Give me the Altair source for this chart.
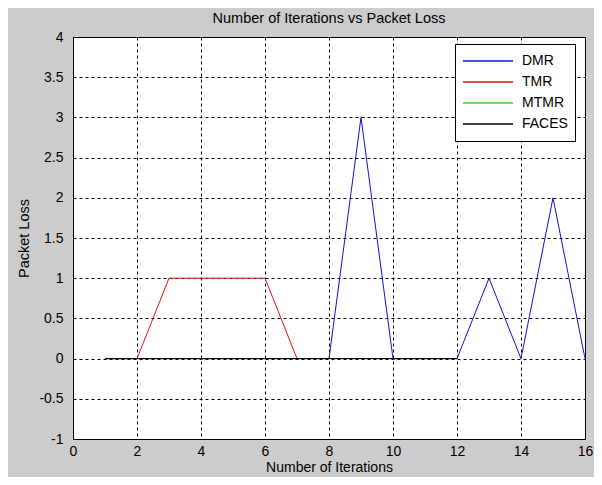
import altair as alt
import pandas as pd

iterations = list(range(1, 17))
dmr = [0, 0, 0, 0, 0, 0, 0, 0, 3, 0, 0, 0, 1, 0, 2, 0]
tmr_x = [1, 2, 3, 4, 5, 6, 7]
tmr = [0, 0, 1, 1, 1, 1, 0]
mtmr_x = list(range(1, 13))
mtmr = [0] * 12
faces_x = list(range(1, 13))
faces = [0] * 12

series_names = ["DMR", "TMR", "MTMR", "FACES"]
series_colors = ["#1010d8", "#e01010", "#20e020", "#000000"]

frames = [
    pd.DataFrame({"x": iterations, "y": dmr, "s": "DMR"}),
    pd.DataFrame({"x": tmr_x, "y": tmr, "s": "TMR"}),
    pd.DataFrame({"x": mtmr_x, "y": mtmr, "s": "MTMR"}),
    pd.DataFrame({"x": faces_x, "y": faces, "s": "FACES"}),
]

FONT = "Liberation Sans"

xenc = alt.X("x:Q", scale=alt.Scale(domain=[0, 16], nice=False, zero=False),
             axis=alt.Axis(values=list(range(0, 17, 2)), title="Number of Iterations",
                           grid=True, gridDash=[3, 3], gridColor="#000000", gridOpacity=1,
                           ticks=False, labelPadding=5, titlePadding=2,
                           labelFontSize=14, titleFontSize=14, labelFont=FONT, titleFont=FONT,
                           labelColor="#000", titleColor="#000", titleFontWeight="normal",
                           domainColor="#000", labelFlush=False))
yenc = alt.Y("y:Q", scale=alt.Scale(domain=[-1, 4], nice=False, zero=False),
             axis=alt.Axis(values=[-1, -0.5, 0, 0.5, 1, 1.5, 2, 2.5, 3, 3.5, 4],
                           title="Packet Loss", labelExpr="datum.value + ''",
                           grid=True, gridDash=[3, 3], gridColor="#000000", gridOpacity=1,
                           ticks=False, labelPadding=10, titleX=-42,
                           labelFontSize=14, titleFontSize=14.5, labelFont=FONT, titleFont=FONT,
                           labelColor="#000", titleColor="#000", titleFontWeight="normal",
                           domainColor="#000", labelFlush=False))

color = alt.Color("s:N", scale=alt.Scale(domain=series_names, range=series_colors),
                  legend=alt.Legend(title=None, orient="none", legendX=382, legendY=7,
                                    symbolType="stroke", symbolSize=2500, symbolStrokeWidth=1.5,
                                    clipHeight=20,
                                    labelFontSize=14, labelFont=FONT, labelColor="#000",
                                    fillColor="#ffffff", strokeColor="#000000",
                                    padding=7, rowPadding=1, labelOffset=8))

layers = [
    alt.Chart(df).mark_line(strokeWidth=1).encode(x=xenc, y=yenc, color=color)
    for df in frames
]

chart = alt.layer(*layers).properties(
    width=512, height=402,
    title=alt.Title("Number of Iterations vs Packet Loss", fontSize=14.5, font=FONT,
                    fontWeight="normal", color="#000", offset=4),
    background="#cccccc",
    padding={"left": 65, "top": 29, "right": 9, "bottom": 38},
    autosize=alt.AutoSizeParams(type="none"),
).configure_view(stroke="#000000", strokeWidth=1, fill="#ffffff")

chart.save("out.html", embed_options={"renderer": "svg", "actions": False})
